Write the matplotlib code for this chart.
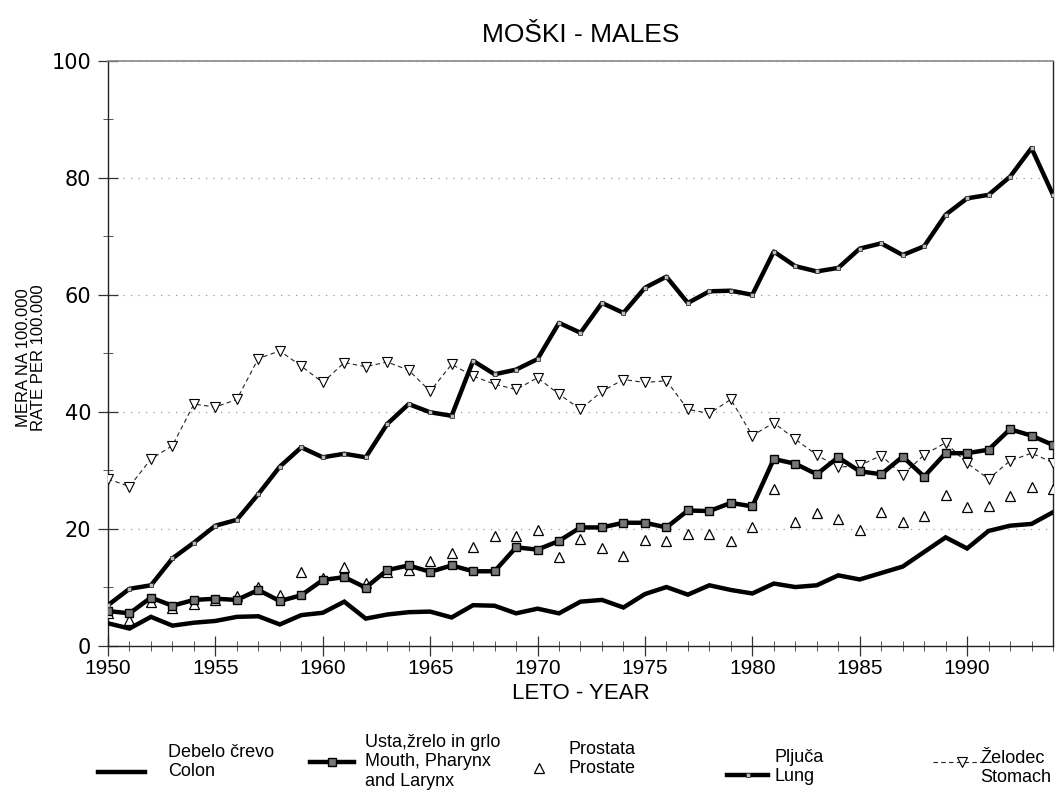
import matplotlib
matplotlib.use("Agg")
import matplotlib.pyplot as plt
from matplotlib.lines import Line2D
from matplotlib.ticker import MultipleLocator

plt.rcParams['font.family'] = ['Liberation Sans', 'DejaVu Sans']

years = list(range(1950, 1995))

colon = [3.8, 2.9, 4.9, 3.4, 3.9, 4.2, 4.9, 5.0, 3.6, 5.2, 5.6, 7.5,
         4.6, 5.3, 5.7, 5.8, 4.8, 6.9, 6.8, 5.5, 6.3, 5.5, 7.5, 7.8,
         6.5, 8.8, 10.0, 8.7, 10.3, 9.5, 8.9, 10.6, 10.0, 10.3, 12.0,
         11.3, 12.4, 13.5, 16.0, 18.5, 16.6, 19.6, 20.5, 20.8, 22.8]

mouth = [5.9, 5.5, 8.2, 6.8, 7.8, 8.0, 7.8, 9.5, 7.6, 8.6, 11.2, 11.7,
         9.9, 12.9, 13.7, 12.6, 13.7, 12.7, 12.7, 16.8, 16.4, 17.9, 20.2, 20.2,
         21.0, 21.0, 20.2, 23.1, 23.0, 24.4, 23.8, 31.9, 31.1, 29.3, 32.2,
         29.8, 29.3, 32.3, 28.9, 32.9, 32.9, 33.5, 37.0, 35.9, 34.3]

prostate = [5.5, 4.3, 7.5, 6.5, 7.1, 7.8, 8.5, 10.0, 8.6, 12.6, 11.5, 13.5,
            10.7, 12.5, 12.9, 14.5, 15.8, 16.8, 18.7, 18.8, 19.7, 15.1, 18.3, 16.7,
            15.3, 18.1, 17.8, 19.0, 19.1, 17.9, 20.3, 26.8, 21.1, 22.6, 21.7,
            19.8, 22.9, 21.1, 22.2, 25.7, 23.7, 23.8, 25.5, 27.1, 26.8]

lung = [6.9, 9.7, 10.3, 14.9, 17.6, 20.5, 21.5, 25.9, 30.6, 33.9, 32.2, 32.8,
        32.2, 37.9, 41.3, 39.9, 39.3, 48.7, 46.4, 47.2, 49.0, 55.2, 53.5, 58.6,
        56.9, 61.2, 63.1, 58.6, 60.6, 60.7, 60.0, 67.4, 64.9, 64.0, 64.6,
        67.9, 68.8, 66.8, 68.3, 73.7, 76.5, 77.1, 80.2, 85.1, 77.1]

stomach = [28.5, 27.2, 31.9, 34.2, 41.3, 40.8, 42.1, 49.1, 50.4, 47.8, 45.0, 48.4,
           47.7, 48.5, 47.1, 43.5, 48.1, 46.1, 44.7, 43.8, 45.8, 43.0, 40.4, 43.5,
           45.5, 45.0, 45.3, 40.4, 39.7, 42.1, 35.9, 38.1, 35.3, 32.6, 30.5,
           30.8, 32.5, 29.2, 32.6, 34.7, 31.2, 28.5, 31.6, 32.9, 31.3]

title = "MOŠKI - MALES"
xlabel = "LETO - YEAR"
ylabel = "MERA NA 100.000\nRATE PER 100.000"
legend_labels = ["Debelo črevo\nColon", "Usta,žrelo in grlo\nMouth, Pharynx\nand Larynx",
                 "Prostata\nProstate", "Pljuča\nLung", "Želodec\nStomach"]

NARROW = ['Liberation Sans Narrow', 'Liberation Sans', 'DejaVu Sans']

W, H = 1056, 796
fig = plt.figure(figsize=(W / 100, H / 100), dpi=100)
ax = fig.add_axes([108 / W, 1 - 645.5 / H, (1053 - 108) / W, (645.5 - 61) / H])

st_colon = dict(color='black', lw=3.2, solid_joinstyle='miter')
st_mouth = dict(color='black', lw=3.2, marker='s', ms=5.5, mfc='#777777', mec='black', mew=1.0)
st_prost = dict(ls='none', marker='^', ms=6.5, mfc='white', mec='black', mew=0.9)
st_lung = dict(color='black', lw=3.2, marker='s', ms=3, mfc='#bbbbbb', mec='#333333', mew=0.6)
st_stom = dict(color='#222222', lw=0.8, ls=(0, (4, 3)), marker='v', ms=7, mfc='white', mec='black', mew=0.8)

ax.plot(years, stomach, **st_stom, zorder=3)
ax.plot(years, prostate, **st_prost, zorder=4)
ax.plot(years, colon, **st_colon, zorder=5)
ax.plot(years, mouth, **st_mouth, zorder=6)
ax.plot(years, lung, **st_lung, zorder=7)

ax.set_xlim(1950, 1994)
ax.set_ylim(0, 100)
ax.xaxis.set_major_locator(MultipleLocator(5))
ax.xaxis.set_minor_locator(MultipleLocator(1))
ax.yaxis.set_major_locator(MultipleLocator(20))
ax.yaxis.set_minor_locator(MultipleLocator(10))
ax.tick_params(axis='both', which='major', direction='inout', length=14, width=0.9, color='#333333')
ax.tick_params(axis='both', which='minor', direction='inout', length=7, width=0.7, color='#555555')
ax.tick_params(axis='y', labelsize=15, pad=5)
ax.tick_params(axis='x', labelsize=15, pad=3)
for lbl in ax.get_yticklabels():
    lbl.set_family('DejaVu Sans')
for lbl in ax.get_xticklabels():
    lbl.set_family(NARROW)
for s in ['left', 'bottom', 'right']:
    ax.spines[s].set_color('#222222')
    ax.spines[s].set_linewidth(1.0)
ax.spines['top'].set_color('#888888')
ax.spines['top'].set_linewidth(1.2)
ax.yaxis.grid(True, which='major', ls=(0, (1, 5)), color='#999999', lw=0.9)

ax.set_title(title, fontsize=19, pad=14)
ax.set_xlabel(xlabel, fontsize=16, labelpad=3, family=NARROW)
ax.set_ylabel(ylabel, fontsize=12, linespacing=1.0, family=NARROW)
ax.yaxis.set_label_coords((46 - 108) / 945, (645.5 - 358) / 584.5)

# legend (manual layout in pixel coordinates)
def fx(x):
    return x / W

def fy(y):
    return 1 - y / H

entries = [
    (98, 145, 772, st_colon, 168, 762, 'left'),
    (310, 354, 762, st_mouth, 365, 762, 'left'),
    (539, 539, 768, st_prost, 569, 759, 'left'),
    (727, 768, 775, st_lung, 774, 767, 'left'),
    (933, 990, 762, st_stom, 1051, 768, 'right'),
]
for (x0, x1, yl, st, tx, ty, ha), lab in zip(entries, legend_labels):
    st2 = dict(st)
    if st2.get('ls') == 'none':
        xs = [x0]
        ys = [yl]
    else:
        xs = [x0, (x0 + x1) / 2, x1]
        ys = [yl, yl, yl]
        st2['markevery'] = [1]
    ln = Line2D([fx(v) for v in xs], [fy(v) for v in ys], transform=fig.transFigure, **st2)
    fig.add_artist(ln)
    fig.text(fx(tx), fy(ty), lab, fontsize=13, ha=ha, va='center', multialignment='left',
             linespacing=1.2, family=NARROW)

fig.savefig("out.png", dpi=100)
